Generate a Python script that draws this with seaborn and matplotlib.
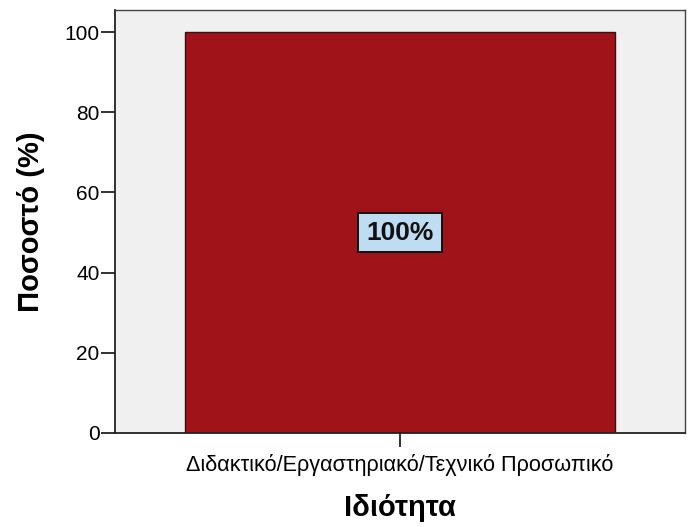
import pandas as pd
import seaborn as sns
from matplotlib import pyplot as plt

# δεδομένα
categories = ['Διδακτικό/Εργαστηριακό/Τεχνικό Προσωπικό']
percent = [100]
labels = ['100%']

df = pd.DataFrame({'Ιδιότητα': categories, 'Ποσοστό': percent})

sns.set_style('white')
plt.rcParams['font.family'] = ['Liberation Sans', 'DejaVu Sans']

fig = plt.figure(figsize=(6.91, 5.27), dpi=100)
ax = fig.add_axes([0.1664, 0.1784, 0.8249, 0.8026])
ax.set_facecolor('#F0F0F0')

sns.barplot(data=df, x='Ιδιότητα', y='Ποσοστό', color='#A01419', saturation=1,
            width=0.753, edgecolor='#3a1010', linewidth=1.0, ax=ax)

for i, (v, t) in enumerate(zip(percent, labels)):
    ax.text(i, v / 2, t, ha='center', va='center', fontsize=19, fontweight='bold',
            color='#111111',
            bbox=dict(boxstyle='square,pad=0.3', facecolor='#BEDCF2', edgecolor='#111111', linewidth=1.4))

ax.set_xlim(-0.5, 0.5)
ax.set_ylim(0, 105.5)
ax.set_yticks([0, 20, 40, 60, 80, 100])
ax.tick_params(axis='both', which='both', length=10, width=1.3, color='#222222', direction='out',
               left=True, bottom=True, labelcolor='black')
ax.tick_params(axis='y', labelsize=15, pad=1)
ax.tick_params(axis='x', labelsize=15.6, pad=5)
for side in ['left', 'bottom']:
    ax.spines[side].set_color('#222222')
    ax.spines[side].set_linewidth(1.3)
for side in ['top', 'right']:
    ax.spines[side].set_color('#444444')
    ax.spines[side].set_linewidth(1.0)

ax.set_xlabel('Ιδιότητα', fontsize=21, fontweight='bold', labelpad=13, color='black')
ax.set_ylabel('Ποσοστό (%)', fontsize=21, fontweight='bold', labelpad=14, color='black')

fig.savefig('out.png', dpi=100, facecolor='white')
